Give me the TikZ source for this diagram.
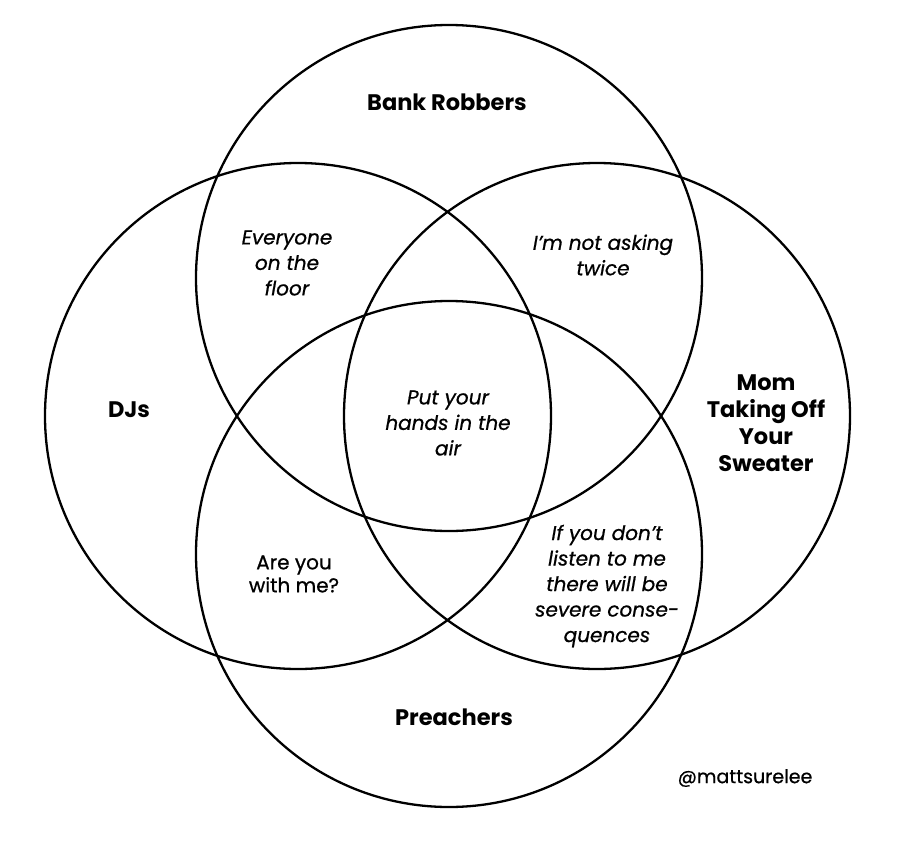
\documentclass[tikz,border=0pt]{standalone}
\usepackage{fontspec}
\setmainfont{Poppins}
\newfontfamily\regfont[FakeBold=0.7]{Poppins}
\begin{document}
\begin{tikzpicture}[x=1pt,y=-1pt,
  setcircle/.style={circle,draw=black,line width=2.3pt,minimum size=506pt,inner sep=0pt},
  biglabel/.style={align=center,font=\fontsize{22.5}{27}\selectfont\bfseries,inner sep=0pt},
  regiontext/.style={align=center,font=\regfont\fontsize{20}{25.5}\selectfont\itshape,inner sep=0pt},
  regionup/.style={align=center,font=\regfont\fontsize{20}{23}\selectfont,inner sep=0pt}]
\useasboundingbox (0,0) rectangle (898,841);
\fill[white] (0,0) rectangle (898,841);
\node[setcircle] (robbers) at (449,278) {};
\node[setcircle] (djs) at (298,416) {};
\node[setcircle] (mom) at (597,416) {};
\node[setcircle] (preachers) at (449,554) {};
\node[biglabel] (lrobbers) at (447,102) {Bank Robbers};
\node[biglabel] (ldjs) at (129,410) {DJs};
\node[biglabel] (lmom) at (766,423) {Mom\\Taking Off\\Your\\Sweater};
\node[biglabel] (lpreachers) at (454,717) {Preachers};
\node[regiontext] (floor) at (287,263) {Everyone\\on the\\floor};
\node[regiontext] (twice) at (603,255) {I’m not asking\\twice};
\node[regiontext] (hands) at (448,423) {Put your\\hands in the\\air};
\node[regionup] (withme) at (294,574) {Are you\\with me?};
\node[regiontext] (conseq) at (607,586) {If you don’t\\listen to me\\there will be\\severe conse-\\quences};
\node[font=\regfont\fontsize{19}{22}\selectfont,inner sep=0pt] (credit) at (745,778) {@mattsurelee};
\end{tikzpicture}
\end{document}
